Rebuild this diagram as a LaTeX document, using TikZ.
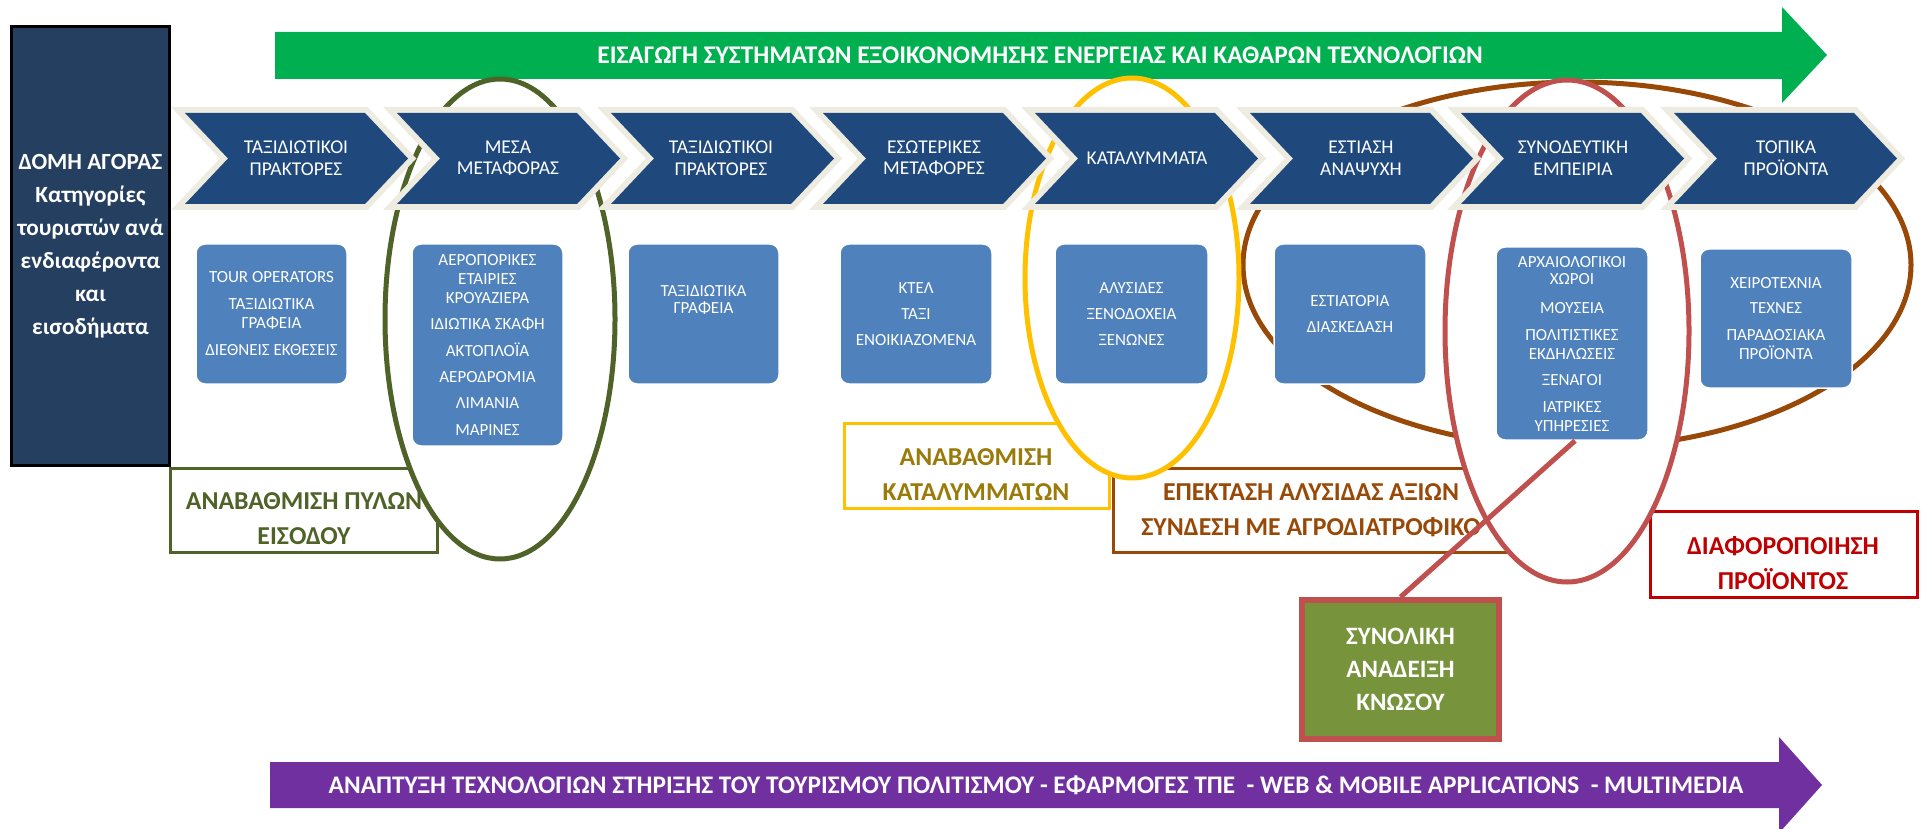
\documentclass[tikz,border=0pt]{standalone}
\usepackage{fontspec}
\setmainfont{Carlito}
\definecolor{navy}{HTML}{243F60}
\definecolor{chevblue}{HTML}{1F497D}
\definecolor{beige}{HTML}{EEECE1}
\definecolor{boxblue}{HTML}{4F81BD}
\definecolor{arrgreen}{HTML}{00B050}
\definecolor{arrpurple}{HTML}{7030A0}
\definecolor{olive}{HTML}{4F6228}
\definecolor{gold}{HTML}{FFC000}
\definecolor{goldtext}{HTML}{9A7B0A}
\definecolor{brownc}{HTML}{984807}
\definecolor{redell}{HTML}{C0504D}
\definecolor{darkred}{HTML}{C00000}
\definecolor{knfill}{HTML}{77933C}
\begin{document}
\begin{tikzpicture}[x=1pt,y=-1pt,
  chevbg/.style={fill=beige,draw=beige,line width=12pt,line join=miter},
  chevfg/.style={fill=chevblue},
  chevtext/.style={text=white,align=center,inner sep=0pt,font=\fontsize{19.5}{21.5}\selectfont},
  bbox/.style={rounded corners=9pt,fill=boxblue,draw=white,line width=1.5pt,text=white,align=center,inner sep=0pt,font=\fontsize{17}{19}\selectfont},
  btext/.style={text=white,align=center,inner sep=0pt,font=\fontsize{17}{17}\selectfont},
  ell/.style={line width=5pt,fill=white},
  labbox/.style={line width=3pt,fill=white,inner sep=0pt},
  labtext/.style={align=center,inner sep=0pt,font=\bfseries\fontsize{25.8}{35}\selectfont},
  arrtext/.style={text=white,inner sep=0pt,font=\bfseries\fontsize{25.4}{30}\selectfont},
  ]
\useasboundingbox (0,0) rectangle (1925,829);

% left box
\node[draw=black,line width=3pt,fill=navy,minimum width=158pt,minimum height=439pt,
  text=white,align=center,inner sep=0pt,font=\bfseries\fontsize{23.2}{33}\selectfont]
  (left) at (90.5,246) {ΔΟΜΗ ΑΓΟΡΑΣ\\Κατηγορίες\\τουριστών ανά\\ενδιαφέροντα\\και\\εισοδήματα};

% green arrow
\fill[arrgreen] (275,32) -- (1782,32) -- (1782,7) -- (1827,55) -- (1782,103) -- (1782,79) -- (275,79) -- cycle;
\node[arrtext] (garr) at (1040,55) {ΕΙΣΑΓΩΓΗ ΣΥΣΤΗΜΑΤΩΝ ΕΞΟΙΚΟΝΟΜΗΣΗΣ ΕΝΕΡΓΕΙΑΣ ΚΑΙ ΚΑΘΑΡΩΝ ΤΕΧΝΟΛΟΓΙΩΝ};

% purple arrow
\fill[arrpurple] (270,762) -- (1779,762) -- (1779,737) -- (1822,785) -- (1779,833) -- (1779,808) -- (270,808) -- cycle;
\node[arrtext,font=\bfseries\fontsize{25.3}{30}\selectfont] (parr) at (1036,785) {ΑΝΑΠΤΥΞΗ ΤΕΧΝΟΛΟΓΙΩΝ ΣΤΗΡΙΞΗΣ ΤΟΥ ΤΟΥΡΙΣΜΟΥ ΠΟΛΙΤΙΣΜΟΥ - ΕΦΑΡΜΟΓΕΣ ΤΠΕ \ - WEB \& MOBILE APPLICATIONS \ - MULTIMEDIA};

% label boxes
\node[labbox,draw=olive,minimum width=267pt,minimum height=84pt] (lg) at (304,510.5) {};
\node[labtext,text=olive] (lgt) at (304,519) {ΑΝΑΒΑΘΜΙΣΗ ΠΥΛΩΝ\\ΕΙΣΟΔΟΥ};
\node[labbox,draw=gold,minimum width=265pt,minimum height=85pt] (ly) at (977,466) {};
\node[labtext,text=goldtext] (lyt) at (976,474.5) {ΑΝΑΒΑΘΜΙΣΗ\\ΚΑΤΑΛΥΜΜΑΤΩΝ};
\node[labbox,draw=brownc,minimum width=397pt,minimum height=84pt] (lb) at (1312,510.5) {};
\node[labtext,text=brownc] (lbt) at (1311,510.5) {ΕΠΕΚΤΑΣΗ ΑΛΥΣΙΔΑΣ ΑΞΙΩΝ\\ΣΥΝΔΕΣΗ ΜΕ ΑΓΡΟΔΙΑΤΡΟΦΙΚΟ};
\node[labbox,draw=darkred,minimum width=267pt,minimum height=86pt] (lr) at (1784,554.5) {};
\node[labtext,text=darkred] (lrt) at (1783,563) {ΔΙΑΦΟΡΟΠΟΙΗΣΗ\\ΠΡΟΪΟΝΤΟΣ};

% ellipses
\draw[ell,draw=brownc] (1577,265) ellipse [x radius=334, y radius=183];
\draw[ell,draw=gold] (1132,278) ellipse [x radius=107, y radius=200];
\draw[ell,draw=redell] (1567,331) ellipse [x radius=122, y radius=251];
\draw[ell,draw=olive] (500,319) ellipse [x radius=115, y radius=240];

% chevrons
\foreach \x/\i in {185/1,397/2,611/3,823/4,1035/5,1250/6,1461/7,1674/8}{
  \draw[chevbg] (\x,113) -- ++(180,0) -- ++(43,45.5) -- ++(-43,45.5) -- ++(-180,0) -- ++(43,-45.5) -- cycle;
  \fill[chevfg] (\x,113) -- ++(180,0) -- ++(43,45.5) -- ++(-43,45.5) -- ++(-180,0) -- ++(43,-45.5) -- cycle;
}
\node[chevtext] (c1) at (296,158) {ΤΑΞΙΔΙΩΤΙΚΟΙ\\ΠΡΑΚΤΟΡΕΣ};
\node[chevtext] (c2) at (508,158) {ΜΕΣΑ\\ΜΕΤΑΦΟΡΑΣ};
\node[chevtext] (c3) at (721,158) {ΤΑΞΙΔΙΩΤΙΚΟΙ\\ΠΡΑΚΤΟΡΕΣ};
\node[chevtext] (c4) at (934,158) {ΕΣΩΤΕΡΙΚΕΣ\\ΜΕΤΑΦΟΡΕΣ};
\node[chevtext] (c5) at (1147,158) {ΚΑΤΑΛΥΜΜΑΤΑ};
\node[chevtext] (c6) at (1361,158) {ΕΣΤΙΑΣΗ\\ΑΝΑΨΥΧΗ};
\node[chevtext] (c7) at (1573,158) {ΣΥΝΟΔΕΥΤΙΚΗ\\ΕΜΠΕΙΡΙΑ};
\node[chevtext] (c8) at (1786,158) {ΤΟΠΙΚΑ\\ΠΡΟΪΟΝΤΑ};

% blue boxes
\node[bbox,minimum width=151pt,minimum height=140pt] (b1) at (271.5,314) {TOUR OPERATORS\\[8pt]ΤΑΞΙΔΙΩΤΙΚΑ\\ΓΡΑΦΕΙΑ\\[8pt]ΔΙΕΘΝΕΙΣ ΕΚΘΕΣΕΙΣ};
\node[bbox,minimum width=151pt,minimum height=202pt] (b2) at (487.5,345) {ΑΕΡΟΠΟΡΙΚΕΣ\\ΕΤΑΙΡΙΕΣ\\ΚΡΟΥΑΖΙΕΡΑ\\[7pt]ΙΔΙΩΤΙΚΑ ΣΚΑΦΗ\\[8pt]ΑΚΤΟΠΛΟΪΑ\\[7pt]ΑΕΡΟΔΡΟΜΙΑ\\[7pt]ΛΙΜΑΝΙΑ\\[8pt]ΜΑΡΙΝΕΣ};
\node[bbox,minimum width=151pt,minimum height=140pt] (b3) at (703.5,314) {};
\node[btext] (t3) at (703.5,300) {ΤΑΞΙΔΙΩΤΙΚΑ\\ΓΡΑΦΕΙΑ};
\node[bbox,minimum width=152pt,minimum height=140pt] (b4) at (916,314) {ΚΤΕΛ\\[7pt]ΤΑΞΙ\\[7pt]ΕΝΟΙΚΙΑΖΟΜΕΝΑ};
\node[bbox,minimum width=153pt,minimum height=140pt] (b5) at (1131.5,314) {ΑΛΥΣΙΔΕΣ\\[7pt]ΞΕΝΟΔΟΧΕΙΑ\\[7pt]ΞΕΝΩΝΕΣ};
\node[bbox,minimum width=152pt,minimum height=140pt] (b6) at (1350,314) {ΕΣΤΙΑΤΟΡΙΑ\\[7pt]ΔΙΑΣΚΕΔΑΣΗ};
\node[bbox,minimum width=152pt,minimum height=193pt] (b7) at (1572,343.5) {ΑΡΧΑΙΟΛΟΓΙΚΟΙ\\[-2pt]ΧΩΡΟΙ\\[10pt]ΜΟΥΣΕΙΑ\\[8pt]ΠΟΛΙΤΙΣΤΙΚΕΣ\\ΕΚΔΗΛΩΣΕΙΣ\\[7pt]ΞΕΝΑΓΟΙ\\[8pt]ΙΑΤΡΙΚΕΣ\\ΥΠΗΡΕΣΙΕΣ};
\node[bbox,minimum width=152pt,minimum height=139pt] (b8) at (1776,318.5) {ΧΕΙΡΟΤΕΧΝΙΑ\\[6pt]ΤΕΧΝΕΣ\\[8pt]ΠΑΡΑΔΟΣΙΑΚΑ\\ΠΡΟΪΟΝΤΑ};

% knossos box and connector
\node[draw=redell,line width=6pt,fill=knfill,minimum width=197pt,minimum height=139pt,
  text=white,align=center,inner sep=0pt,font=\bfseries\fontsize{25}{33}\selectfont]
  (kn) at (1400.5,669.5) {ΣΥΝΟΛΙΚΗ\\ΑΝΑΔΕΙΞΗ\\ΚΝΩΣΟΥ};
\draw[redell,line width=5pt] ([xshift=3pt]b7.south) -- (kn.north);
\end{tikzpicture}
\end{document}
